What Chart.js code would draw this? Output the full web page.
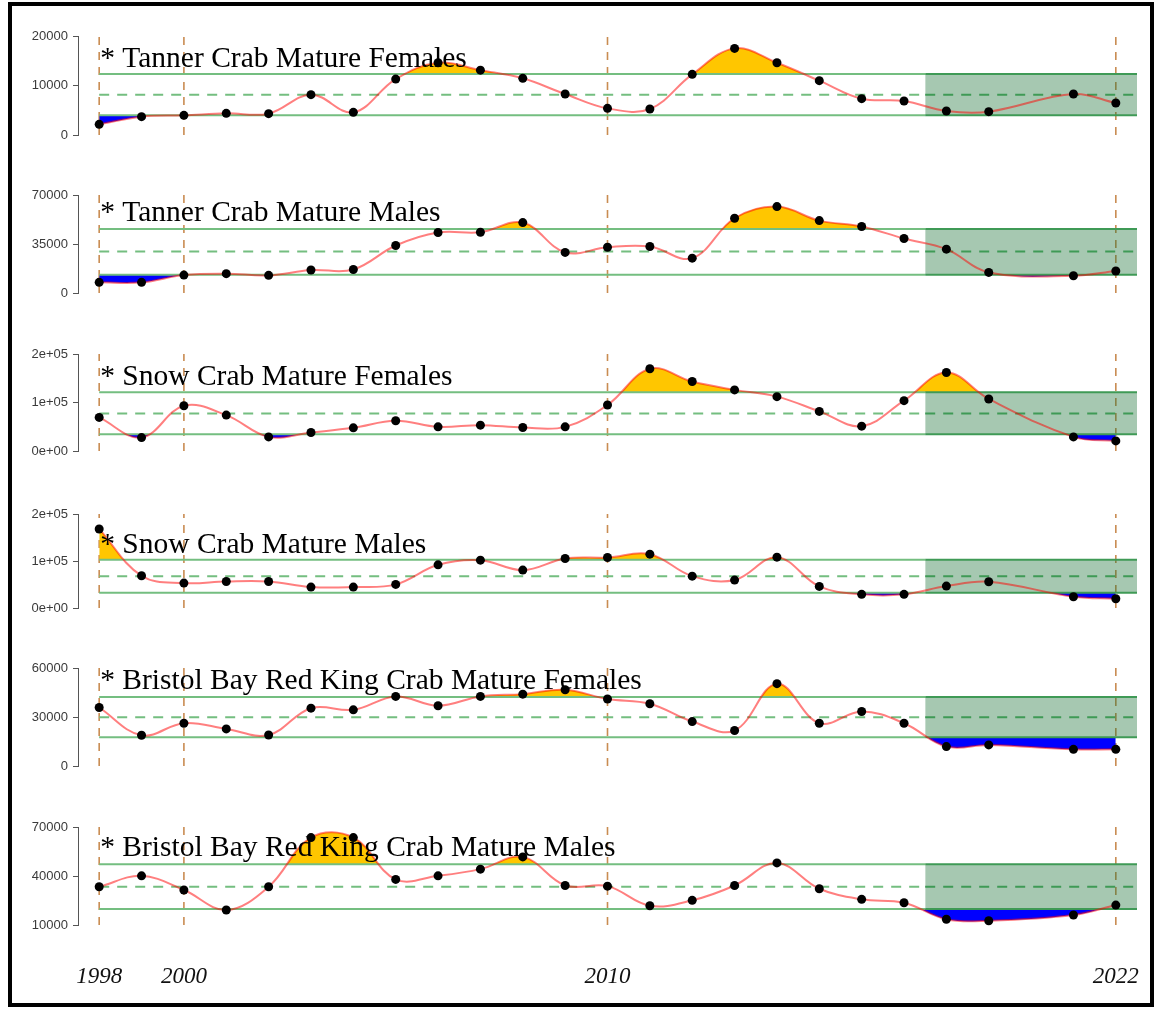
<!DOCTYPE html>
<html>
<head>
<meta charset="utf-8">
<script src="https://cdn.jsdelivr.net/npm/chart.js@4.4.1/dist/chart.umd.min.js"></script>
<style>
  html, body { margin: 0; padding: 0; background: #ffffff; }
  body { width: 1158px; height: 1014px; position: relative; overflow: hidden; }
  #frame { position: absolute; left: 8px; top: 2px; width: 1146px; height: 1005px;
           border: 4px solid #000; box-sizing: border-box; }
  canvas.panel { position: absolute; left: 0; }
</style>
</head>
<body>
<div id="frame"></div>
<script>
// Survey years (no survey in 2020)
const years = [1998,1999,2000,2001,2002,2003,2004,2005,2006,2007,2008,2009,
               2010,2011,2012,2013,2014,2015,2016,2017,2018,2019,2021,2022];

// Mature abundance by stock
const tannerFemales = [2150,3700,3970,4380,4310,8150,4580,11300,14600,13100,11450,8280,
                       5390,5250,12260,17500,14600,10980,7340,6870,4850,4710,8280,6460];
const tannerMales   = [7600,7600,12800,13800,12600,16400,16800,33900,43200,43400,50300,29000,
                       32700,33200,24900,53400,61700,51700,47500,38900,31300,14700,12300,15700];
const snowFemales   = [69200,27700,93400,74000,29100,38100,47800,62300,49800,53300,48400,49800,
                       94800,169600,143300,126000,112100,81700,51200,103800,161900,107300,29100,20800];
const snowMales     = [168200,68600,53000,56500,56500,44500,44500,50200,91900,101800,80600,105300,
                       107400,114500,67800,59400,108100,45900,29000,29000,46600,55800,24000,19800];
const bbrkcFemales  = [35800,18800,26200,22700,19000,35400,34400,42600,36900,42600,44000,46700,
                       41000,38100,27200,21700,50400,26200,33400,26200,11900,12900,10200,10200];
const bbrkcMales    = [33400,40100,31400,19200,33400,63500,63500,37900,40100,44200,51700,34200,
                       33800,21800,25100,34200,48000,32200,25700,23600,13500,12600,16100,22200];

const titles = ["* Tanner Crab Mature Females", "* Tanner Crab Mature Males",
                "* Snow Crab Mature Females", "* Snow Crab Mature Males",
                "* Bristol Bay Red King Crab Mature Females", "* Bristol Bay Red King Crab Mature Males"];

// Reference levels: upper bound, long-term mean, lower bound
const upperLevels = [12300, 45800, 121100, 102500, 42200, 47200];
const meanLevels  = [8150, 29700, 77500, 67800, 29900, 33400];
const lowerLevels = [3970, 13050, 34600, 32500, 17600, 19800];

// Y axis ticks and their labels
const yTickValues = [[0,10000,20000],[0,35000,70000],[0,100000,200000],
                     [0,100000,200000],[0,30000,60000],[10000,40000,70000]];
const yTickLabels = [["0","10000","20000"],["0","35000","70000"],["0e+00","1e+05","2e+05"],
                     ["0e+00","1e+05","2e+05"],["0","30000","60000"],["10000","40000","70000"]];

// X axis labels and marker years
const xTickYears = [1998, 2000, 2010, 2022];
const markerYears = [1998, 2000, 2010, 2022];
const recentPeriod = [2017.5, 2022.5];
const xRange = [1997.5, 2022.5];
const levelStart = 1998;

const seriesList = [tannerFemales, tannerMales, snowFemales, snowMales, bbrkcFemales, bbrkcMales];

// Page layout of each panel (pixel rows of top/bottom tick, title baseline drop)
const layoutRows = [
  { top: 36,  bottom: 135, titleDrop: 31 },
  { top: 195, bottom: 293, titleDrop: 26 },
  { top: 354, bottom: 451, titleDrop: 31 },
  { top: 514, bottom: 608, titleDrop: 39 },
  { top: 668, bottom: 766, titleDrop: 21 },
  { top: 827, bottom: 925, titleDrop: 29 }
];

const PAD = 15;
const W = 1158;
const AXIS_W = 78;
const RIGHT_PAD = 21;
const LAST_CANVAS_BOTTOM = 1000;

const LEVEL_GREEN = '#74be80';
const LEVEL_GREEN_DARK = '#3f9a56';
const BOX_FILL = 'rgba(20,110,50,0.38)';
const TAN = '#c98c52';

const panelTitle = {
  id: 'panelTitle',
  afterDatasetsDraw(chart, args, opts) {
    const { ctx, chartArea, scales } = chart;
    ctx.save();
    ctx.font = '29.5px "Liberation Serif", "Times New Roman", serif';
    ctx.fillStyle = '#000';
    ctx.textAlign = 'left';
    ctx.textBaseline = 'alphabetic';
    ctx.fillText(opts.text, scales.x.getPixelForValue(levelStart) + 1, chartArea.top + opts.drop);
    ctx.restore();
  }
};

function flatLine(y, x0, x1, extra) {
  return Object.assign({
    type: 'line',
    data: [{ x: x0, y: y }, { x: x1, y: y }],
    pointRadius: 0, tension: 0, fill: false
  }, extra);
}

function buildPanel(i) {
  const row = layoutRows[i];
  const isLast = i === seriesList.length - 1;
  const values = seriesList[i];
  const pts = years.map((yr, k) => ({ x: yr, y: values[k] }));
  const up = upperLevels[i], mid = meanLevels[i], lo = lowerLevels[i];
  const yt = yTickValues[i];
  const yMin = yt[0], yMax = yt[yt.length - 1];

  const canvas = document.createElement('canvas');
  canvas.className = 'panel';
  const cTop = row.top - PAD;
  const cHeight = isLast ? (LAST_CANVAS_BOTTOM - cTop) : (row.bottom - row.top + 2 * PAD);
  canvas.width = W; canvas.height = cHeight;
  canvas.style.top = cTop + 'px';
  canvas.style.width = W + 'px'; canvas.style.height = cHeight + 'px';
  document.body.appendChild(canvas);

  const datasets = [];

  // vertical dashed year markers
  markerYears.forEach(yr => datasets.push({
    type: 'line', data: [{ x: yr, y: yMin }, { x: yr, y: yMax }],
    borderColor: TAN, borderWidth: 1.6, borderDash: [8, 7], pointRadius: 0, tension: 0,
    fill: false, order: 10
  }));
  // recent-period box
  datasets.push(flatLine(up, recentPeriod[0], recentPeriod[1], {
    borderWidth: 0, borderColor: 'rgba(0,0,0,0)', order: 9,
    fill: { target: { value: lo }, above: BOX_FILL, below: BOX_FILL }
  }));
  // shortfall below the lower bound
  datasets.push({
    type: 'line', data: pts, borderWidth: 0, borderColor: 'rgba(0,0,0,0)', pointRadius: 0,
    tension: 0.38, order: 7,
    fill: { target: { value: lo }, above: 'rgba(0,0,0,0)', below: '#0000ff' }
  });
  // excess above the upper bound
  datasets.push({
    type: 'line', data: pts, borderWidth: 0, borderColor: 'rgba(0,0,0,0)', pointRadius: 0,
    tension: 0.38, order: 6,
    fill: { target: { value: up }, above: '#ffc600', below: 'rgba(0,0,0,0)' }
  });
  // reference level lines, lighter before the recent period and darker within it
  [[levelStart, recentPeriod[0], LEVEL_GREEN], [recentPeriod[0], recentPeriod[1], LEVEL_GREEN_DARK]]
    .forEach(([x0, x1, col]) => {
      datasets.push(flatLine(up, x0, x1, { borderColor: col, borderWidth: 2, order: 5 }));
      datasets.push(flatLine(mid, x0, x1, { borderColor: col, borderWidth: 2, borderDash: [10, 8], order: 5 }));
      datasets.push(flatLine(lo, x0, x1, { borderColor: col, borderWidth: 2, order: 5 }));
    });
  // abundance curve and survey points
  datasets.push({
    type: 'line', data: pts, borderColor: 'rgba(255,0,0,0.5)', borderWidth: 2,
    tension: 0.38, fill: false, order: 1, clip: false,
    pointRadius: 4.5, pointBackgroundColor: '#000', pointBorderColor: '#000', pointBorderWidth: 0
  });

  new Chart(canvas, {
    type: 'line',
    data: { datasets },
    plugins: [panelTitle],
    options: {
      responsive: false, animation: false, devicePixelRatio: 1,
      layout: { padding: { top: PAD, bottom: isLast ? 0 : PAD, left: 0, right: RIGHT_PAD } },
      plugins: {
        legend: { display: false }, tooltip: { enabled: false },
        panelTitle: { text: titles[i], drop: row.titleDrop }
      },
      scales: {
        x: {
          type: 'linear', min: xRange[0], max: xRange[1], display: isLast,
          afterBuildTicks: s => { s.ticks = xTickYears.map(v => ({ value: v })); },
          afterFit: s => {
            if (isLast) { s.height = cHeight - (row.bottom - cTop); }
            s.paddingLeft = 0; s.paddingRight = 0;
          },
          ticks: {
            callback: v => String(v), autoSkip: false, maxRotation: 0, padding: 38,
            color: '#111', font: { family: 'Liberation Serif', style: 'italic', size: 23 }
          },
          grid: { display: false, drawTicks: false },
          border: { display: false }
        },
        y: {
          type: 'linear', min: yMin, max: yMax,
          afterBuildTicks: s => { s.ticks = yt.map(v => ({ value: v })); },
          afterFit: s => { s.width = AXIS_W; },
          ticks: {
            callback: (v, k) => yTickLabels[i][k], padding: 5, color: '#3a3a3a',
            font: { family: 'Liberation Sans', size: 13 }
          },
          grid: { drawOnChartArea: false, drawTicks: true, tickLength: 5, color: '#555', lineWidth: 1 },
          border: { display: true, color: '#555', width: 1 }
        }
      }
    }
  });
}

seriesList.forEach((_, i) => buildPanel(i));
</script>
</body>
</html>
